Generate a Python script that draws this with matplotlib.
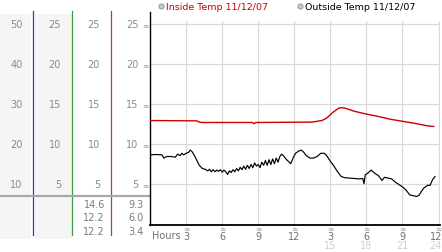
import matplotlib
matplotlib.use("Agg")
import matplotlib.pyplot as plt
import matplotlib.transforms as mtrans
from matplotlib.patches import Rectangle

# ---------------- data ----------------
y_ticks = [5, 10, 15, 20, 25]
col1_labels = ["10", "20", "30", "40", "50"]
col2_labels = ["5", "10", "15", "20", "25"]
col3_labels = ["5", "10", "15", "20", "25"]
col4_labels = ["5", "10", "15", "20", "25"]
summary_col3 = ["14.6", "12.2", "12.2"]
summary_col4 = ["9.3", "6.0", "3.4"]

x_ticks = [3, 6, 9, 12, 15, 18, 21, 24]
x_labels = ["3", "6", "9", "12", "3", "6", "9", "12"]
x_labels2 = ["", "", "", "", "15", "18", "21", "24"]

legend_labels = ["Inside Temp 11/12/07", "Outside Temp 11/12/07"]

inside_h = [0, 3.9, 4.1, 4.3, 8.5, 8.65, 8.8, 13.5, 14.3, 14.7, 15.2, 15.7,
            16.0, 16.3, 17.0, 18.0, 19.0, 20.0, 21.0, 22.0, 23.0, 23.6]
inside_v = [13.0, 12.95, 12.8, 12.75, 12.75, 12.6, 12.75, 12.8, 13.0, 13.3,
            14.0, 14.55, 14.6, 14.5, 14.15, 13.8, 13.5, 13.15, 12.9, 12.65,
            12.35, 12.25]

outside_h = [0.0, 0.5, 1.0, 1.15, 1.4, 1.8, 2.1, 2.3, 2.5, 2.65, 2.8, 3.0, 3.2,
             3.35, 3.5, 3.7, 3.9, 4.1, 4.35, 4.6, 4.8, 4.95, 5.1, 5.25, 5.4,
             5.55, 5.7, 5.85, 6.0, 6.15, 6.3, 6.45, 6.6, 6.75, 6.9, 7.05, 7.2,
             7.35, 7.5, 7.65, 7.8, 7.95, 8.1, 8.25, 8.4, 8.55, 8.7, 8.85, 9.0,
             9.15, 9.3, 9.45, 9.6, 9.75, 9.9, 10.05, 10.2, 10.35, 10.5, 10.65,
             10.8, 10.95, 11.1, 11.3, 11.5, 11.7, 11.9, 12.1, 12.4, 12.6, 12.8,
             13.0, 13.3, 13.6, 13.9, 14.2, 14.5, 14.7, 15.0, 15.3, 15.6, 15.9,
             16.2, 16.6, 17.0, 17.4, 17.7, 17.8, 17.9, 18.1, 18.4, 18.7, 19.0,
             19.3, 19.5, 19.8, 20.1, 20.4, 20.7, 21.0, 21.3, 21.6, 21.9, 22.2,
             22.4, 22.6, 22.8, 23.1, 23.3, 23.5, 23.7]
outside_v = [8.7, 8.75, 8.7, 8.3, 8.5, 8.5, 8.4, 8.8, 8.6, 8.9, 8.7, 8.9, 9.0,
             9.3, 9.1, 8.6, 8.0, 7.4, 7.0, 6.9, 6.7, 6.9, 6.6, 6.85, 6.6,
             6.8, 6.65, 6.85, 6.55, 6.8, 6.6, 6.25, 6.7, 6.5, 6.85, 6.6, 7.0,
             6.7, 7.15, 6.85, 7.3, 6.9, 7.4, 7.0, 7.5, 7.1, 7.7, 7.3, 7.5,
             7.1, 7.8, 7.4, 8.0, 7.4, 8.1, 7.5, 8.2, 7.6, 8.3, 7.8,
             8.5, 8.8, 8.6, 8.2, 7.9, 7.6, 8.3, 8.9, 9.2, 9.3, 9.0,
             8.6, 8.3, 8.3, 8.5, 8.9, 8.9, 8.6, 7.9, 7.3, 6.6, 6.0,
             5.85, 5.8, 5.75, 5.7, 5.75, 5.1, 6.2, 6.4, 6.8, 6.4, 6.1,
             5.5, 5.9, 5.8, 5.7, 5.3, 5.0, 4.7, 4.3, 3.7, 3.6, 3.5,
             3.7, 4.2, 4.6, 4.9, 4.9, 5.6, 6.0]

# ---------------- figure ----------------
W, H = 442, 253
fig = plt.figure(figsize=(W / 100, H / 100), dpi=100)
fig.patch.set_facecolor("white")

# pixel overlay for decorations
pax = fig.add_axes([0, 0, 1, 1], zorder=0)
pax.set_xlim(0, W)
pax.set_ylim(H, 0)
pax.axis("off")

# main plot
left_px, right_px, top_px, bot_px = 150, 440, 13, 225.5
ax = fig.add_axes([left_px / W, (H - bot_px) / H, (right_px - left_px) / W,
                   (bot_px - top_px) / H], zorder=2)
ax.set_facecolor("none")
ax.set_xlim(0, 24.12)
ax.set_ylim(0, 26.56)
for s in ["top", "right"]:
    ax.spines[s].set_visible(False)
ax.spines["left"].set_color("black")
ax.spines["bottom"].set_color("black")
ax.spines["left"].set_linewidth(1.0)
ax.spines["bottom"].set_linewidth(1.3)
ax.set_xticks([])
ax.set_yticks([])

grid_c = "#d8d8d8"
ax.hlines(y_ticks, 0, 24.12, color=grid_c, lw=0.9, zorder=1)
ax.vlines(x_ticks, 0, 25.4, color=grid_c, lw=0.9, zorder=1)

ax.plot(inside_h, inside_v, color="#cc0000", lw=1.0, zorder=3)
ax.plot(outside_h, outside_v, color="black", lw=0.85, zorder=3)

# ---------------- left panel ----------------
fnt = "DejaVu Sans"
pax.add_patch(Rectangle((0, 15), 31, 225, color="#f5f5f5", lw=0))
pax.add_patch(Rectangle((35, 15), 37, 225, color="#f5f5f5", lw=0))
pax.plot([33, 33], [12, 236], color="#2444a8", lw=0.9)
pax.plot([72, 72], [12, 236], color="#3c9c3c", lw=0.9)
pax.plot([111, 111], [12, 236], color="#b83a3a", lw=0.9)
pax.plot([0, 150], [197, 197], color="#a8a8a8", lw=1.6, zorder=3)

blend = mtrans.blended_transform_factory(pax.transData, ax.transData)
lab_c = "#8a8a8a"
for xr, labs in [(22.5, col1_labels), (61, col2_labels), (100, col3_labels),
                 (138.5, col4_labels)]:
    for v, lab in zip(y_ticks, labs):
        pax.text(xr, v, lab, transform=blend, ha="right", va="center",
                 fontsize=7, color=lab_c, family=fnt)
for v in y_ticks:
    pax.text(145.5, v, "≈", transform=blend, ha="center", va="center",
             fontsize=5.5, color="#8c8c8c", family=fnt, zorder=5)

sum_c = "#7a7a7a"
for i, (a, b) in enumerate(zip(summary_col3, summary_col4)):
    yy = 205 + i * 13.5
    pax.text(105, yy, a, ha="right", va="center", fontsize=7, color=sum_c, family=fnt)
    pax.text(143.5, yy, b, ha="right", va="center", fontsize=7, color=sum_c, family=fnt)

# ---------------- x labels ----------------
blend2 = mtrans.blended_transform_factory(ax.transData, pax.transData)
pax.text(152, 236.5, "Hours", ha="left", va="center", fontsize=7,
         color="#707070", family=fnt)
for i, (xv, l1, l2) in enumerate(zip(x_ticks, x_labels, x_labels2)):
    last = i == len(x_ticks) - 1
    tr = blend2
    ha = "center"
    if last:
        tr = blend2 + mtrans.ScaledTranslation(3.5 / 100, 0, fig.dpi_scale_trans)
        ha = "right"
    pax.text(xv, 229, "≈", transform=blend2, ha="center", va="center",
             fontsize=5.5, color="#8c8c8c", family=fnt)
    pax.text(xv, 237.5, l1, transform=tr, ha=ha, va="center",
             fontsize=7, color="#707070", family=fnt)
    if l2:
        pax.text(xv, 246, l2, transform=tr, ha=ha, va="center",
                 fontsize=7, color="#d0d0d0", family=fnt)

# ---------------- legend ----------------
pax.scatter([161, 300], [7, 7], s=14, facecolor="#c8c8c8", edgecolor="#909090",
            lw=0.6, zorder=4)
pax.text(166, 7, legend_labels[0], ha="left", va="center", fontsize=6.8,
         color="#cc0000", family=fnt)
pax.text(305, 7, legend_labels[1], ha="left", va="center", fontsize=6.8,
         color="black", family=fnt)

fig.savefig("out.png", dpi=100, facecolor="white")
